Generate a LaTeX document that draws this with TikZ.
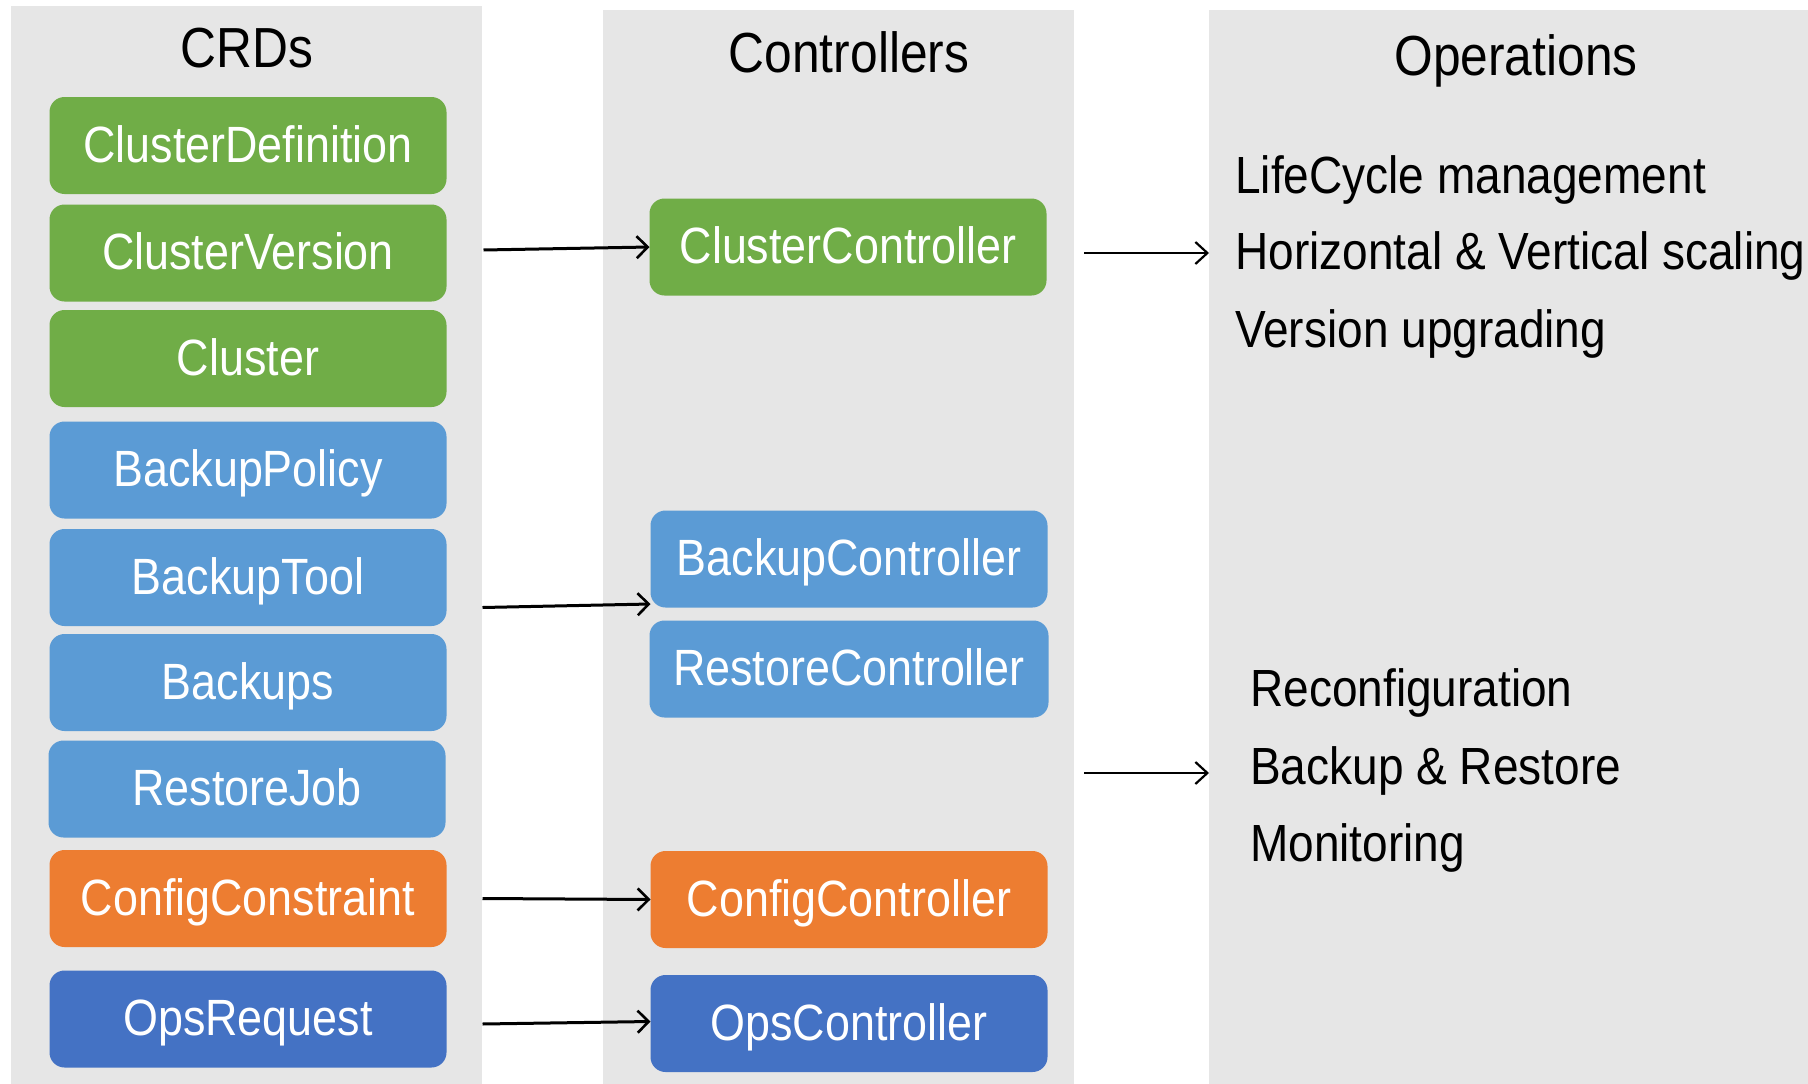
\documentclass[tikz,border=0pt]{standalone}
\usepackage{fontspec}
\setmainfont[FakeStretch=0.88]{Liberation Sans}
\usetikzlibrary{arrows.meta}
\definecolor{panelgray}{HTML}{E6E6E6}
\definecolor{cgreen}{HTML}{70AD47}
\definecolor{cblue}{HTML}{5B9BD5}
\definecolor{corange}{HTML}{ED7D31}
\definecolor{cdblue}{HTML}{4472C4}
\begin{document}
\begin{tikzpicture}[x=1pt,y=-1pt,
  panel/.style={fill=panelgray, draw=none, anchor=north west, inner sep=0pt, outer sep=0pt},
  box/.style={rounded corners=15pt, draw=none, text=white, minimum width=397pt, minimum height=97pt,
    inner sep=0pt, outer sep=0pt, font=\fontsize{51}{60}\selectfont, text height=33pt, text depth=0pt},
  title/.style={font=\fontsize{56.5}{66}\selectfont, text height=40pt, text depth=0pt, inner sep=0pt},
  optext/.style={font=\fontsize{52.3}{60}\selectfont, anchor=west, inner sep=0pt, text height=36pt, text depth=0pt},
  link/.style={line width=3pt, -{Straight Barb[length=11pt,width=22pt,line width=2.6pt]}},
  link2/.style={line width=2.2pt, -{Straight Barb[length=12pt,width=22pt,line width=2.2pt]}},
]
\useasboundingbox (0,0) rectangle (1808,1084);
\fill[white] (0,0) rectangle (1808,1084);

% panels
\node[panel, minimum width=471pt, minimum height=1078pt] (crdpanel) at (11,6) {};
\node[panel, minimum width=471pt, minimum height=1074pt] (ctrlpanel) at (603,10) {};
\node[panel, minimum width=599pt, minimum height=1074pt] (opspanel) at (1209,10) {};

% titles
\node[title] (t1) at (247,47) {CRDs};
\node[title] (t2) at (849,52) {Controllers};
\node[title] (t3) at (1516,55) {Operations};

% CRDs
\node[box, fill=cgreen] (cd) at (248,145.5) {ClusterDefinition};
\node[box, fill=cgreen] (cv) at (248,253) {ClusterVersion};
\node[box, fill=cgreen] (cl) at (248,358.5) {Cluster};
\node[box, fill=cblue] (bp) at (248,470) {BackupPolicy};
\node[box, fill=cblue] (bt) at (248,577.5) {BackupTool};
\node[box, fill=cblue] (bs) at (248,682.5) {Backups};
\node[box, fill=cblue] (rj) at (247,789) {RestoreJob};
\node[box, fill=corange] (ccn) at (248,898.5) {ConfigConstraint};
\node[box, fill=cdblue] (orq) at (248,1019) {OpsRequest};

% Controllers
\node[box, fill=cgreen] (cc) at (848,247) {ClusterController};
\node[box, fill=cblue] (bc) at (849,559) {BackupController};
\node[box, fill=cblue, minimum width=399pt] (rc) at (849,669) {RestoreController};
\node[box, fill=corange] (cfc) at (849,899.5) {ConfigController};
\node[box, fill=cdblue] (oc) at (849,1023.5) {OpsController};

% Operations
\node[optext] (o1) at (1235,175) {LifeCycle management};
\node[optext] (o2) at (1235,251) {Horizontal \& Vertical scaling};
\node[optext] (o3) at (1235,329) {Version upgrading};
\node[optext] (o4) at (1250,688) {Reconfiguration};
\node[optext] (o5) at (1250,766) {Backup \& Restore};
\node[optext] (o6) at (1250,843) {Monitoring};

% connectors
\draw[link] ([xshift=37pt,yshift=3pt]cv.east) -- (cc.west);
\draw[link] ([xshift=36pt,yshift=-30pt]bt.east) -- ([yshift=-45pt]bc.west);
\draw[link] ([xshift=36pt]ccn.east) -- (cfc.west);
\draw[link] ([xshift=36pt,yshift=-5pt]orq.east) -- ([yshift=2pt]oc.west);

\coordinate (r1) at (1084,253);
\coordinate (r2) at (1084,773);
\draw[link2] (r1) -- (r1 -| opspanel.west);
\draw[link2] (r2) -- (r2 -| opspanel.west);
\end{tikzpicture}
\end{document}
